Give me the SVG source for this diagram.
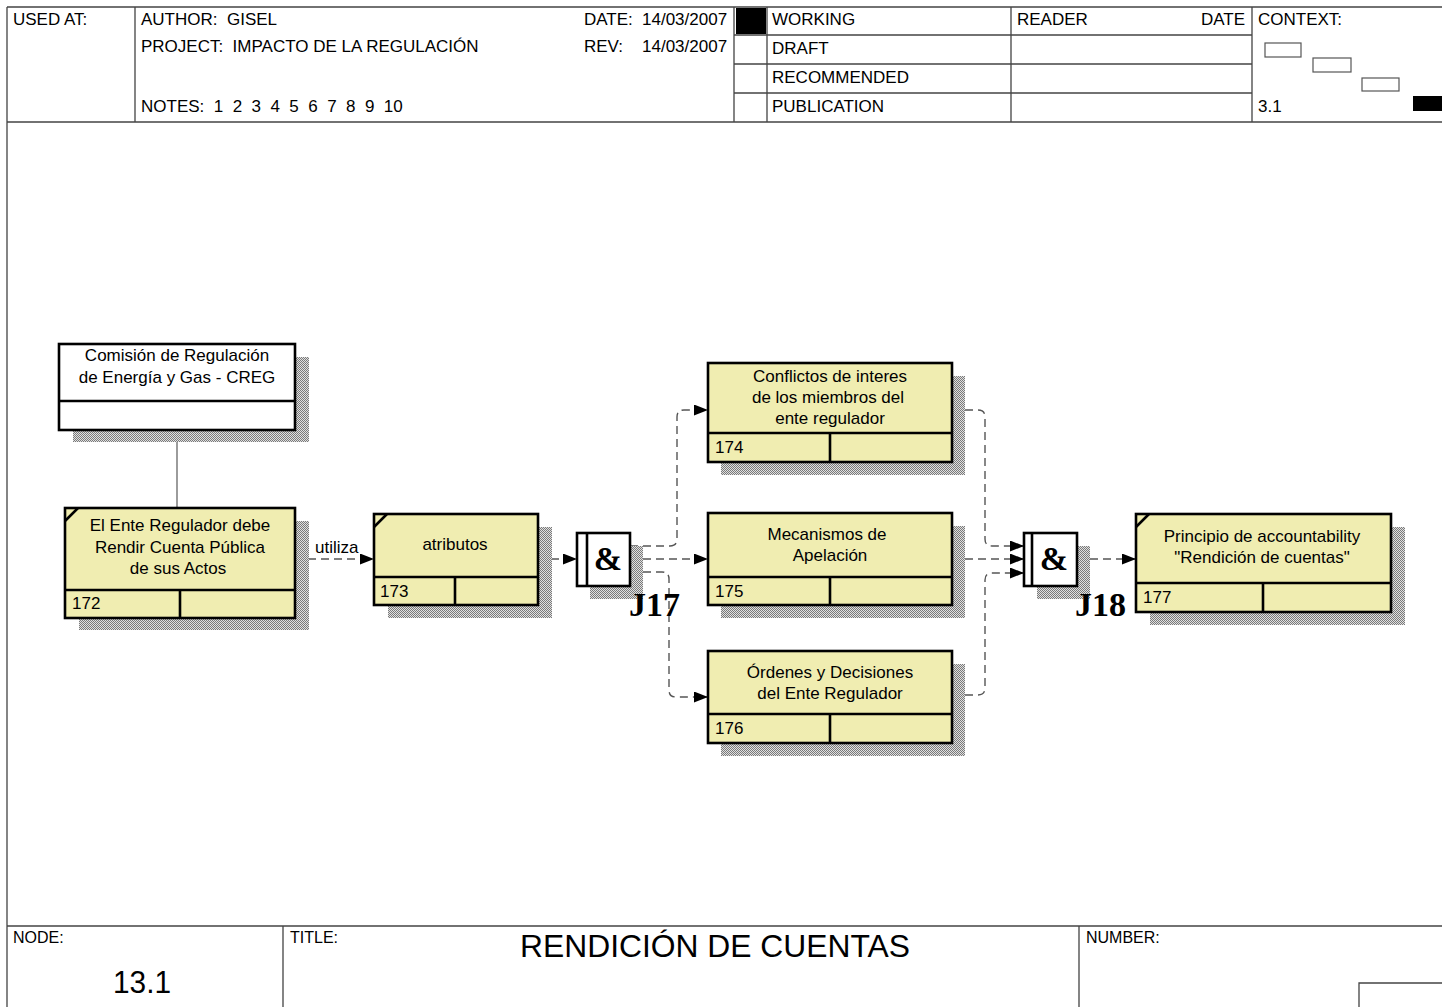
<svg xmlns="http://www.w3.org/2000/svg" width="1442" height="1007" viewBox="0 0 1442 1007" xml:space="preserve">
<defs>
<pattern id="hatch" width="2" height="2" patternUnits="userSpaceOnUse"><rect width="2" height="2" fill="#e0e0e0"/><rect width="1" height="1" fill="#7a7a7a"/><rect x="1" y="1" width="1" height="1" fill="#7a7a7a"/></pattern>
<marker id="arr" markerUnits="userSpaceOnUse" markerWidth="16" markerHeight="12" refX="14" refY="5.5" orient="auto"><path d="M0,0 L14,5.5 L0,11 z" fill="#000"/></marker>
<style>
.t{font-family:"Liberation Sans",Arial,sans-serif;font-size:17px;fill:#000;white-space:pre}
.n{font-family:"Liberation Sans",Arial,sans-serif;font-size:17px;fill:#000}
.c{text-anchor:middle}
.fr{stroke:#444;stroke-width:1.3;fill:none}
.box{fill:#f0edb1;stroke:#000;stroke-width:2.6}
.wbox{fill:#fff;stroke:#000;stroke-width:2.6}
.ln{stroke:#000;stroke-width:2.6;fill:none}
.sh{fill:url(#hatch)}
.dash{stroke:#555;stroke-width:1.4;fill:none;stroke-dasharray:8 5}
.jl{font-family:"Liberation Serif","Times New Roman",serif;font-weight:bold;fill:#000}
</style>
</defs>
<rect width="1442" height="1007" fill="#fff"/>
<g id="frame">
<path class="fr" d="M7,7 H1442 M7,7 V1007 M7,122 H1442 M135,7 V122 M734,7 V122 M767,7 V122 M1011,7 V122 M1252,7 V122 M734,35 H1252 M734,64 H1252 M734,93 H1252 M7,926 H1442 M283,926 V1007 M1079,926 V1007 M1359,1007 V983 H1442"/>
<rect x="736" y="8" width="30" height="26" fill="#000"/>
<rect x="1265" y="43" width="36" height="14" fill="#fff" stroke="#555" stroke-width="1.2"/>
<rect x="1313" y="58" width="38" height="14" fill="#fff" stroke="#555" stroke-width="1.2"/>
<rect x="1362" y="78" width="37" height="13" fill="#fff" stroke="#555" stroke-width="1.2"/>
<rect x="1413" y="96" width="29" height="15" fill="#000"/>
<text class="t" x="13" y="25">USED AT:</text>
<text class="t" x="141" y="25">AUTHOR:  GISEL</text>
<text class="t" x="141" y="52">PROJECT:  IMPACTO DE LA REGULACIÓN</text>
<text class="t" x="141" y="112">NOTES:  1  2  3  4  5  6  7  8  9  10</text>
<text class="t" x="584" y="25">DATE:</text>
<text class="t" x="642" y="25">14/03/2007</text>
<text class="t" x="584" y="52">REV:</text>
<text class="t" x="642" y="52">14/03/2007</text>
<text class="t" x="772" y="25">WORKING</text>
<text class="t" x="772" y="54">DRAFT</text>
<text class="t" x="772" y="83">RECOMMENDED</text>
<text class="t" x="772" y="112">PUBLICATION</text>
<text class="t" x="1017" y="25">READER</text>
<text class="t" x="1245" y="25" text-anchor="end">DATE</text>
<text class="t" x="1258" y="25">CONTEXT:</text>
<text class="t" x="1258" y="112">3.1</text>
<text class="t" x="13" y="943" style="font-size:16px">NODE:</text>
<text class="t" x="113" y="993" style="font-size:32px" textLength="58" lengthAdjust="spacingAndGlyphs">13.1</text>
<text class="t" x="290" y="943" style="font-size:16px">TITLE:</text>
<text class="t" x="520" y="957" style="font-size:32px" textLength="390" lengthAdjust="spacingAndGlyphs">RENDICIÓN DE CUENTAS</text>
<text class="t" x="1086" y="943" style="font-size:16px">NUMBER:</text>
</g>
<g id="connectors">
<path d="M177,430 V508" stroke="#666" stroke-width="1.3" fill="none"/>
<path class="dash" d="M295,559 H374" marker-end="url(#arr)"/>
<text class="n" x="315" y="553">utiliza</text>
<path class="dash" d="M538,559 H577" marker-end="url(#arr)"/>
<path class="dash" d="M630,546 H670 Q677,546 677,539 V417 Q677,410 684,410 H708" marker-end="url(#arr)"/>
<path class="dash" d="M630,559 H708" marker-end="url(#arr)"/>
<path class="dash" d="M630,572 H662 Q669,572 669,579 V690 Q669,697 676,697 H708" marker-end="url(#arr)"/>
<path class="dash" d="M952,410 H978 Q985,410 985,417 V539 Q985,546 992,546 H1024" marker-end="url(#arr)"/>
<path class="dash" d="M952,559 H1024" marker-end="url(#arr)"/>
<path class="dash" d="M952,695 H978 Q985,695 985,688 V580 Q985,573 992,573 H1024" marker-end="url(#arr)"/>
<path class="dash" d="M1077,559 H1136" marker-end="url(#arr)"/>
</g>
<g id="creg">
<rect class="sh" x="73" y="357" width="236" height="85"/>
<rect class="wbox" x="59" y="344" width="236" height="86"/>
<path class="ln" d="M59,401 H295"/>
<text class="n c" x="177" y="361">Comisión de Regulación</text>
<text class="n c" x="177" y="383">de Energía y Gas - CREG</text>
</g>
<g id="n172">
<rect class="sh" x="79" y="521" width="230" height="109"/>
<rect class="box" x="65" y="508" width="230" height="110"/>
<path class="ln" d="M65,590 H295 M180,590 V618 M65,521 L78,508"/>
<text class="n c" x="180" y="531">El Ente Regulador debe</text>
<text class="n c" x="180" y="553">Rendir Cuenta Pública</text>
<text class="n c" x="178" y="574">de sus Actos</text>
<text class="n" x="72" y="609">172</text>
</g>
<g id="n173">
<rect class="sh" x="388" y="527" width="164" height="91"/>
<rect class="box" x="374" y="514" width="164" height="91"/>
<path class="ln" d="M374,577 H538 M455,577 V605 M374,527 L387,514"/>
<text class="n c" x="455" y="550">atributos</text>
<text class="n" x="380" y="597">173</text>
</g>
<g id="j17">
<rect class="sh" x="590" y="546" width="53" height="53"/>
<rect class="wbox" x="577" y="533" width="53" height="53"/>
<path class="ln" d="M587,533 V586"/>
<text class="jl c" x="608" y="570" font-size="34">&amp;</text>
<text class="jl" x="629" y="616" font-size="34">J17</text>
</g>
<g id="n174">
<rect class="sh" x="721" y="376" width="244" height="99"/>
<rect class="box" x="708" y="363" width="244" height="99"/>
<path class="ln" d="M708,433 H952 M830,433 V462"/>
<text class="n c" x="830" y="382">Conflictos de interes</text>
<text class="n c" x="828" y="403">de los miembros del</text>
<text class="n c" x="830" y="424">ente regulador</text>
<text class="n" x="715" y="453">174</text>
</g>
<g id="n175">
<rect class="sh" x="721" y="526" width="244" height="92"/>
<rect class="box" x="708" y="513" width="244" height="92"/>
<path class="ln" d="M708,577 H952 M830,577 V605"/>
<text class="n c" x="827" y="540">Mecanismos de</text>
<text class="n c" x="830" y="561">Apelación</text>
<text class="n" x="715" y="597">175</text>
</g>
<g id="n176">
<rect class="sh" x="721" y="664" width="244" height="92"/>
<rect class="box" x="708" y="651" width="244" height="92"/>
<path class="ln" d="M708,714 H952 M830,714 V743"/>
<text class="n c" x="830" y="678">Órdenes y Decisiones</text>
<text class="n c" x="830" y="699">del Ente Regulador</text>
<text class="n" x="715" y="734">176</text>
</g>
<g id="j18">
<rect class="sh" x="1037" y="546" width="53" height="53"/>
<rect class="wbox" x="1024" y="533" width="53" height="53"/>
<path class="ln" d="M1032,533 V586"/>
<text class="jl c" x="1054" y="570" font-size="34">&amp;</text>
<text class="jl" x="1075" y="616" font-size="34">J18</text>
</g>
<g id="n177">
<rect class="sh" x="1150" y="527" width="255" height="98"/>
<rect class="box" x="1136" y="514" width="255" height="98"/>
<path class="ln" d="M1136,583 H1391 M1263,583 V612 M1136,527 L1149,514"/>
<text class="n c" x="1262" y="542">Principio de accountability</text>
<text class="n c" x="1262" y="563">"Rendición de cuentas"</text>
<text class="n" x="1143" y="603">177</text>
</g>
</svg>
